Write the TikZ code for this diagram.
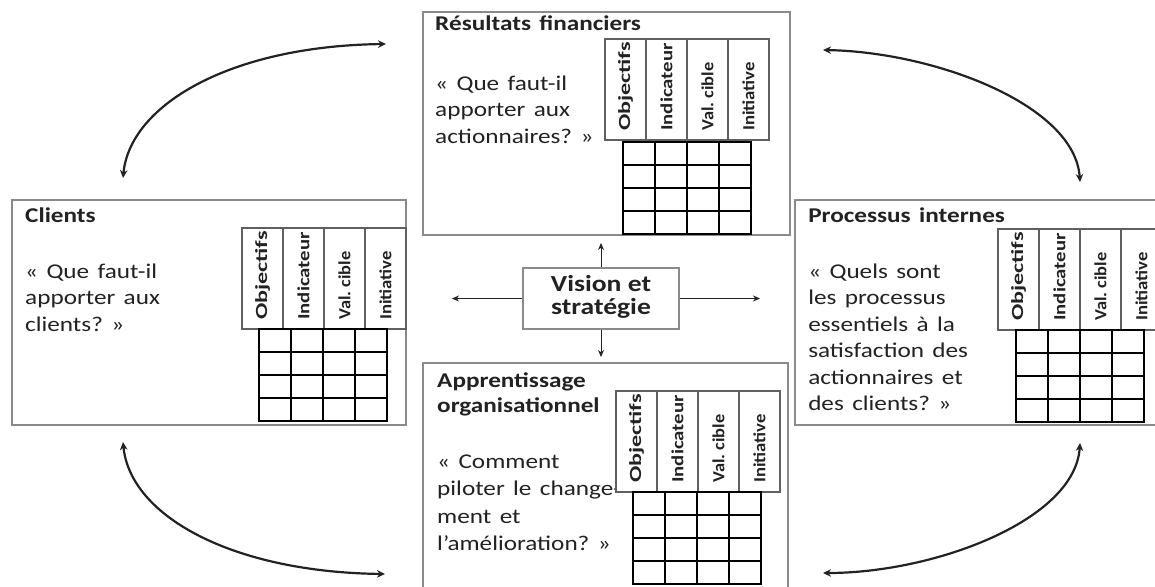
\documentclass[tikz,border=0pt]{standalone}
\usepackage{fontspec}
\setmainfont{Carlito}
\usepackage{graphicx}
\usetikzlibrary{arrows.meta}
\frenchspacing
\definecolor{boxgray}{HTML}{8A8A8A}
\definecolor{hdrgray}{HTML}{606060}
\definecolor{ink}{HTML}{222222}
\tikzset{
 panelbox/.style={draw=boxgray, line width=1.7pt, anchor=north west, inner sep=0pt, outer sep=0pt},
 hdrline/.style={draw=hdrgray, line width=1.4pt},
 gridout/.style={draw=black, line width=2.2pt},
 gridin/.style={draw=black, line width=1.2pt},
 ptitle/.style={anchor=base west, inner sep=0pt, text=ink, font=\bfseries\fontsize{21}{25}\selectfont, xscale=1.2, text width=260pt, align=left},
 pbody/.style={anchor=base west, inner sep=0pt, text=ink, font=\fontsize{21}{26.5}\selectfont, xscale=1.2, text width=200pt, align=left},
 collab/.style={rotate=90, anchor=west, inner sep=0pt, text=ink, font=\bfseries\fontsize{17}{17}\selectfont},
 visbox/.style={draw=boxgray, line width=1.7pt, minimum width=156pt, minimum height=61pt, inner sep=0pt, text=ink, font=\bfseries\fontsize{23}{23}\selectfont},
 sarrow/.style={line width=1pt, draw=ink, -{Stealth[length=7pt,width=6pt]}},
 carrow/.style={line width=2.2pt, draw=ink, {Stealth[length=8pt,width=7.5pt]}-{Stealth[length=8pt,width=7.5pt]}},
}
\newcommand\bscgrid[5]{%
 \draw[hdrline, fill=white] (#2,#3) rectangle ++(164,101);
 \foreach \k in {1,2,3} {\draw[hdrline] ({#2+41*\k},#3) -- ++(0,101);}
 \node[collab] (#1-obj) at ({#2+20.5},{#3+92}) {\scalebox{1.42}[1]{Objectifs}};
 \node[collab] (#1-ind) at ({#2+61.5},{#3+92}) {\scalebox{1.22}[1]{Indicateur}};
 \node[collab] (#1-val) at ({#2+102.5},{#3+92}) {\scalebox{1.08}[1]{Val. cible}};
 \node[collab] (#1-ini) at ({#2+143.5},{#3+92}) {\scalebox{1.1}[1]{Initiative}};
 \foreach \k in {1,2,3} {\draw[gridin] ({#4+32*\k},#5) -- ++(0,92); \draw[gridin] (#4,{#5+23*\k}) -- ++(128,0);}
 \draw[gridout] (#4,#5) rectangle ++(128,92);
}
\begin{document}
\begin{tikzpicture}[x=1pt,y=-1pt]
\useasboundingbox (0,0) rectangle (1155,586);
\fill[white] (0,0) rectangle (1155,586);
\clip (0,0) rectangle (1155,586);

% panels
\node[panelbox, minimum width=367pt, minimum height=223pt] (fin) at (423,12) {};
\node[panelbox, minimum width=394pt, minimum height=225pt] (cli) at (12,200) {};
\node[panelbox, minimum width=365pt, minimum height=225pt] (pro) at (795,200) {};
\node[panelbox, minimum width=365pt, minimum height=240pt] (app) at (423,363) {};

% titles and questions
\node[ptitle] (fin-t) at (435,31) {Résultats financiers};
\node[pbody] (fin-q) at (435,90) {« Que faut-il\\apporter aux\\actionnaires? »};

\node[ptitle] (cli-t) at (25,222) {Clients};
\node[pbody] (cli-q) at (25,278) {« Que faut-il\\apporter aux\\clients? »};

\node[ptitle] (pro-t) at (808,222) {Processus internes};
\node[pbody] (pro-q) at (808,278) {« Quels sont\\les processus\\essentiels à la\\satisfaction des\\actionnaires et\\des clients? »};

\node[ptitle] (app-t) at (437,387) {Apprentissage\\organisationnel};
\node[pbody, font=\fontsize{21}{27.5}\selectfont] (app-q) at (437,468) {« Comment\\piloter le change-\\ment et\\l’amélioration? »};

% tables
\bscgrid{fin}{605}{39}{623}{142}
\bscgrid{cli}{242}{228}{259}{329}
\bscgrid{pro}{998}{229}{1016}{330}
\bscgrid{app}{616}{391}{633}{492}

% vision
\node[visbox] (vis) at (601,298.5) {\scalebox{1.2}[1]{\begin{tabular}{@{}c@{}}Vision et\\stratégie\end{tabular}}};
\coordinate (vu) at (601,243);
\coordinate (vd) at (601,357);
\coordinate (vl) at (452,298.5);
\coordinate (vr) at (760,298.5);
\draw[sarrow] (vis.north) -- (vu);
\draw[sarrow] (vis.south) -- (vd);
\draw[sarrow] (vis.west) -- (vl);
\draw[sarrow] (vis.east) -- (vr);

% curved arrows
\coordinate (tl1) at (123,178); \coordinate (tl2) at (386,44);
\coordinate (bl1) at (123,442); \coordinate (bl2) at (385,574);
\coordinate (tr1) at (823,50);  \coordinate (tr2) at (1080,182);
\coordinate (br1) at (1080,443); \coordinate (br2) at (823,573);
\draw[carrow] (tl1) .. controls (130,105) and (230,46) .. (tl2);
\draw[carrow] (bl1) .. controls (130,515) and (230,572) .. (bl2);
\draw[carrow] (tr1) .. controls (935,52) and (1075,105) .. (tr2);
\draw[carrow] (br1) .. controls (1075,520) and (935,573) .. (br2);
\end{tikzpicture}
\end{document}
